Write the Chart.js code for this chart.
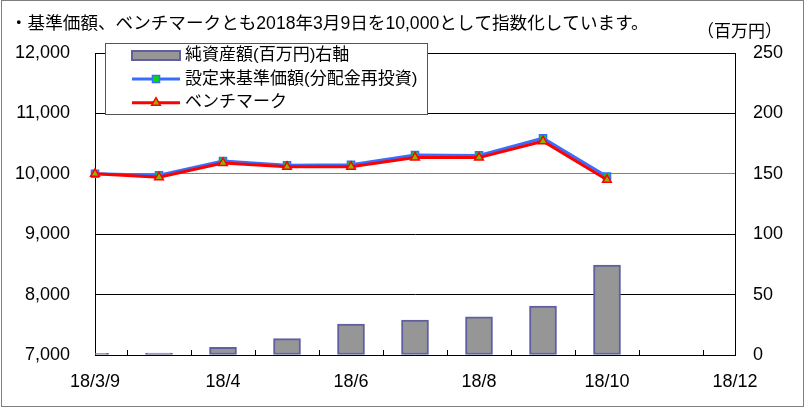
<!DOCTYPE html>
<html>
<head>
<meta charset="utf-8">
<script src="https://cdn.jsdelivr.net/npm/chart.js@4"></script>
<style>
  html, body { margin: 0; padding: 0; background: #fff; }
  canvas { display: block; }
</style>
</head>
<body>
<canvas id="fundChart" width="810" height="408"></canvas>
<script>
// months on the category axis (only every other one gets a label)
const categories = ['18/3/9', '18/3', '18/4', '18/5', '18/6', '18/7', '18/8', '18/9', '18/10', '18/11', '18/12'];
const navIndex = [10000, 9977, 10210, 10142, 10150, 10310, 10305, 10590, 9955];
const benchIndex = [10000, 9944, 10180, 10115, 10118, 10270, 10268, 10540, 9900];
const netAssets = [1.4, 1.6, 6.4, 13.5, 25.6, 29, 31.5, 40.5, 74.4];

const leftTicks = [7000, 8000, 9000, 10000, 11000, 12000];
const rightTicks = [0, 50, 100, 150, 200, 250];

const FONT = '"Liberation Sans", "Noto Sans CJK JP", sans-serif';
const titleText = '・基準価額、ベンチマークとも2018年3月9日を10,000として指数化しています。';
const unitText = '（百万円）';

// frame + caption texts
const frameText = {
  id: 'frameText',
  afterDraw(chart) {
    const c = chart.ctx;
    c.save();
    c.strokeStyle = '#7f7f7f';
    c.lineWidth = 1;
    c.strokeRect(1.5, 0.5, 802, 406);
    c.fillStyle = '#000';
    c.font = '17.6px ' + FONT;
    c.textBaseline = 'middle';
    c.textAlign = 'left';
    c.fillText(titleText, 10, 24);
    c.font = '17px ' + FONT;
    c.textAlign = 'right';
    c.fillText(unitText, 782, 32);
    c.restore();
  }
};

// legend box drawn inside the plot area like the original
const boxLegend = {
  id: 'boxLegend',
  afterDraw(chart) {
    const c = chart.ctx;
    const ds = chart.data.datasets;
    const bx = 105.5, by = 43.5, bw = 322, bh = 71;
    c.save();
    c.fillStyle = '#fff';
    c.fillRect(bx, by, bw, bh);
    c.strokeStyle = '#555';
    c.lineWidth = 1;
    c.strokeRect(bx, by, bw, bh);

    const rows = [55.5, 79, 102.7];
    const sx1 = 132, sx2 = 180, mid = 156;
    c.font = '17px ' + FONT;
    c.textBaseline = 'middle';
    c.textAlign = 'left';

    ds.forEach((d, i) => {
      const y = rows[i];
      if (d.type === 'bar') {
        c.fillStyle = d.backgroundColor;
        c.fillRect(sx1, y - 4.5, sx2 - sx1, 9);
        c.strokeStyle = d.borderColor;
        c.lineWidth = 2;
        c.strokeRect(sx1, y - 4.5, sx2 - sx1, 9);
      } else {
        c.strokeStyle = d.borderColor;
        c.lineWidth = d.borderWidth;
        c.beginPath();
        c.moveTo(sx1, y);
        c.lineTo(sx2, y);
        c.stroke();
        c.fillStyle = d.pointBackgroundColor;
        c.strokeStyle = d.pointBorderColor;
        c.lineWidth = d.pointBorderWidth;
        c.beginPath();
        if (d.pointStyle === 'rect') {
          const s = d.pointRadius * Math.SQRT1_2;
          c.rect(mid - s, y - s, 2 * s, 2 * s);
        } else {
          const r = d.pointRadius;
          c.moveTo(mid, y - r);
          c.lineTo(mid + r * 0.866, y + r * 0.5);
          c.lineTo(mid - r * 0.866, y + r * 0.5);
          c.closePath();
        }
        c.fill();
        c.stroke();
      }
      c.fillStyle = '#000';
      c.fillText(d.label, 185, y);
    });
    c.restore();
  }
};

const ctx = document.getElementById('fundChart');
new Chart(ctx, {
  type: 'bar',
  data: {
    labels: categories,
    datasets: [
      {
        type: 'bar',
        label: '純資産額(百万円)右軸',
        data: netAssets,
        yAxisID: 'y1',
        backgroundColor: '#969696',
        borderColor: '#6060a0',
        borderWidth: 2,
        borderSkipped: false,
        barThickness: 27,
        order: 2
      },
      {
        type: 'line',
        label: '設定来基準価額(分配金再投資)',
        data: navIndex,
        yAxisID: 'y',
        borderColor: '#3a6cff',
        borderWidth: 3,
        pointStyle: 'rect',
        pointRadius: 5,
        pointBackgroundColor: '#00e000',
        pointBorderColor: '#3a6cff',
        pointBorderWidth: 1.5,
        tension: 0,
        order: 1
      },
      {
        type: 'line',
        label: 'ベンチマーク',
        data: benchIndex,
        yAxisID: 'y',
        borderColor: '#ff0000',
        borderWidth: 3,
        pointStyle: 'triangle',
        pointRadius: 5,
        pointBackgroundColor: '#8cb400',
        pointBorderColor: '#ff0000',
        pointBorderWidth: 1.5,
        tension: 0,
        order: 0
      }
    ]
  },
  options: {
    responsive: false,
    animation: false,
    layout: { padding: { top: 53, left: 0, right: 0, bottom: 0 } },
    plugins: {
      legend: { display: false },
      tooltip: { enabled: false }
    },
    scales: {
      x: {
        offset: false,
        afterFit(s) { s.height = 53; },
        border: { color: '#000', width: 1 },
        grid: { drawOnChartArea: false, drawTicks: true, tickLength: -5, color: '#000' },
        ticks: {
          autoSkip: false,
          maxRotation: 0,
          padding: 21,
          color: '#000',
          font: { size: 18, family: FONT },
          callback(v, i) { return i % 2 === 0 ? categories[i] : ''; }
        }
      },
      y: {
        position: 'left',
        min: 7000,
        max: 12000,
        afterFit(s) { s.width = 95; },
        afterBuildTicks(s) { s.ticks = leftTicks.map(v => ({ value: v })); },
        border: { color: '#000', width: 1 },
        grid: {
          drawTicks: false,
          color: c => (c.tick && c.tick.value === 10000 ? '#808080' : '#000')
        },
        ticks: {
          padding: 25,
          color: '#000',
          font: { size: 18, family: FONT },
          callback: v => v.toLocaleString('en-US')
        }
      },
      y1: {
        position: 'right',
        min: 0,
        max: 250,
        afterFit(s) { s.width = 75; },
        afterBuildTicks(s) { s.ticks = rightTicks.map(v => ({ value: v })); },
        border: { color: '#000', width: 1 },
        grid: { drawOnChartArea: false, drawTicks: false },
        ticks: {
          padding: 18,
          color: '#000',
          font: { size: 18, family: FONT }
        }
      }
    }
  },
  plugins: [frameText, boxLegend]
});
</script>
</body>
</html>
